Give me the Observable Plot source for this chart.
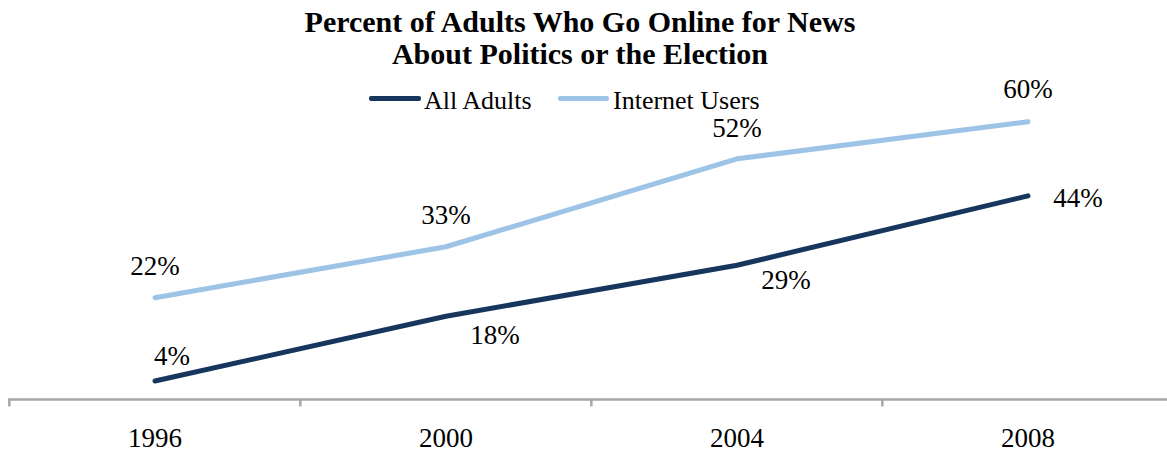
<!DOCTYPE html>
<html>
<head>
<meta charset="utf-8">
<script src="https://cdn.jsdelivr.net/npm/d3@7"></script>
<script src="https://cdn.jsdelivr.net/npm/@observablehq/plot@0.6"></script>
<style>
  html, body { margin: 0; padding: 0; background: #fff; }
  #wrap { position: relative; width: 1167px; height: 453px; font-family: "Liberation Serif", serif; color: #000; }
  #title { position: absolute; left: 0; width: 1160px; top: 6px; text-align: center; font-weight: bold; font-size: 30px; line-height: 32px; }
  .lg-line { position: absolute; height: 5px; border-radius: 2px; }
  .lg-text { position: absolute; font-size: 26px; line-height: 26px; white-space: nowrap; }
  #chart { position: absolute; left: 0; top: 0; }
</style>
</head>
<body>
<div id="wrap">
  <div id="chart"></div>
  <div id="title">Percent of Adults Who Go Online for News<br>About Politics or the Election</div>
  <div class="lg-line" style="left:369px;top:96px;width:52px;background:#17365D"></div>
  <div class="lg-text" style="left:424px;top:88px">All Adults</div>
  <div class="lg-line" style="left:558px;top:96px;width:51px;background:#9DC3E6"></div>
  <div class="lg-text" style="left:613px;top:88px">Internet Users</div>
</div>
<script>
const years = ["1996", "2000", "2004", "2008"];
const seriesNames = ["All Adults", "Internet Users"];
const allAdults = [4, 18, 29, 44];
const internetUsers = [22, 33, 52, 60];
const seriesColors = ["#17365D", "#9DC3E6"];

// label placement (style only, not data)
const adultsLabelPlacement = [
  {dx: -1, dy: -25, anchor: "start"},
  {dx: 49, dy: 19, anchor: "middle"},
  {dx: 49, dy: 15, anchor: "middle"},
  {dx: 50, dy: 3, anchor: "middle"}
];
const usersLabelPlacement = [
  {dx: 0, dy: -31, anchor: "middle"},
  {dx: 0, dy: -31, anchor: "middle"},
  {dx: 0, dy: -30, anchor: "middle"},
  {dx: 0, dy: -32, anchor: "middle"}
];

const rows = [];
years.forEach((yr, i) => {
  rows.push({year: yr, series: seriesNames[0], value: allAdults[i], idx: i});
  rows.push({year: yr, series: seriesNames[1], value: internetUsers[i], idx: i});
});

const bandLeft = 8, bandRight = 1173.3;
const bw = (bandRight - bandLeft) / years.length;

const labelMarks = rows.map(r => {
  const p = (r.series === seriesNames[0] ? adultsLabelPlacement : usersLabelPlacement)[r.idx];
  return Plot.text([r], {
    x: "year", y: "value", text: d => d.value + "%",
    dx: p.dx, dy: p.dy, textAnchor: p.anchor,
    fontSize: 27, fill: "#000"
  });
});

const chart = Plot.plot({
  width: 1167,
  height: 453,
  marginTop: 75,
  marginBottom: 54,
  marginLeft: 8,
  marginRight: 0,
  style: {fontFamily: "'Liberation Serif', serif", background: "transparent", color: "#000"},
  x: {type: "band", domain: years, range: [bandLeft, bandRight], padding: 0, axis: null, label: null},
  y: {domain: [0, 70], axis: null},
  color: {domain: seriesNames, range: seriesColors},
  marks: [
    Plot.ruleY([0], {stroke: "#A6A6A6", strokeWidth: 2.5}),
    Plot.ruleX(years, {x: d => d, dx: -bw / 2, y1: 0, y2: -1.6, stroke: "#A6A6A6", strokeWidth: 2.5}),
    Plot.axisX({tickSize: 0, tickPadding: 28, fontSize: 27, fill: "#000", label: null}),
    Plot.line(rows, {x: "year", y: "value", z: "series", stroke: "series", strokeWidth: 5, strokeLinecap: "round", strokeLinejoin: "round"}),
    ...labelMarks
  ]
});
document.getElementById("chart").appendChild(chart);
</script>
</body>
</html>
